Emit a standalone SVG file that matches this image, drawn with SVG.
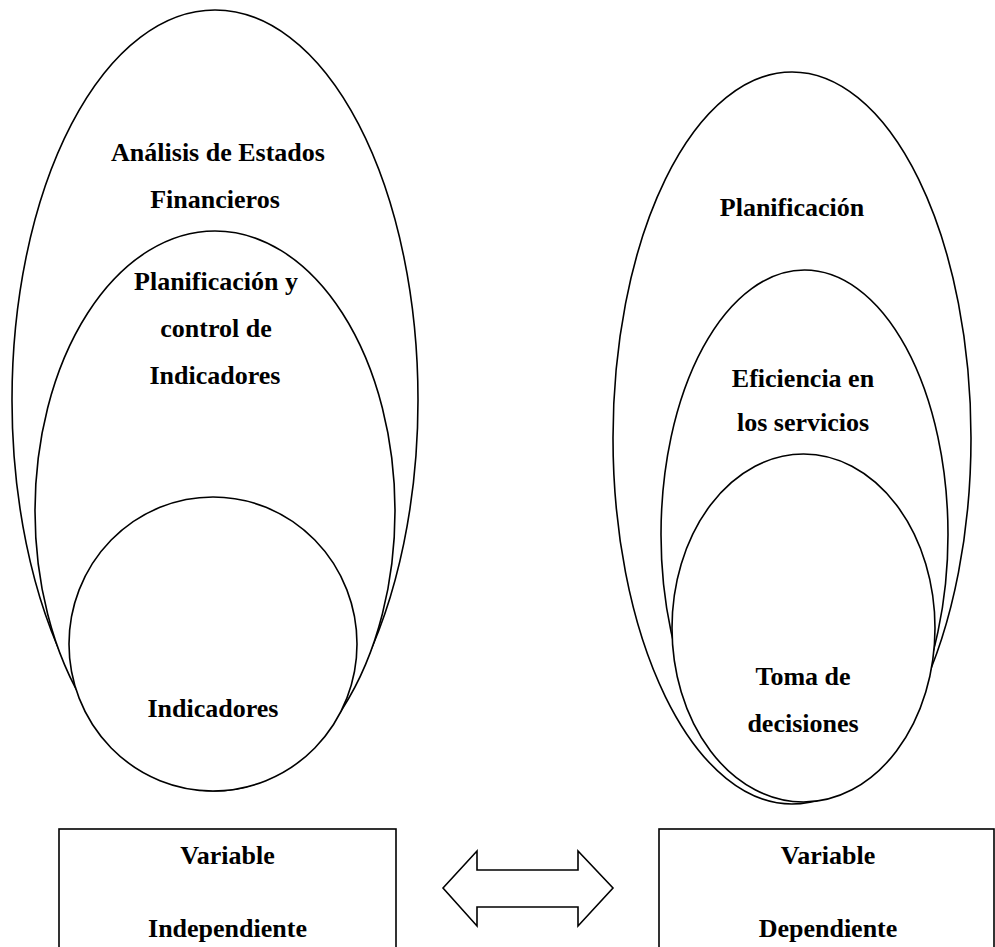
<svg xmlns="http://www.w3.org/2000/svg" width="995" height="947" viewBox="0 0 995 947">
<style>
.s{fill:#fff;stroke:#000;stroke-width:1.6}
.t{font-family:"Liberation Serif","Times New Roman",serif;font-weight:bold;font-size:26px;text-anchor:middle;fill:#000}
</style>
<rect width="995" height="947" fill="#fff"/>
<g id="left-outer"><ellipse class="s" cx="215" cy="400" rx="203" ry="390"/>
<text class="t" x="218" y="161">Análisis de Estados</text><text class="t" x="215" y="208">Financieros</text></g>
<g id="left-middle"><ellipse class="s" cx="215" cy="511" rx="180" ry="280"/>
<text class="t" x="216" y="290">Planificación y</text><text class="t" x="216" y="337">control de</text><text class="t" x="215" y="384">Indicadores</text></g>
<g id="left-inner"><ellipse class="s" cx="213" cy="644" rx="144" ry="147"/>
<text class="t" x="213" y="717">Indicadores</text></g>
<g id="right-outer"><ellipse class="s" cx="792" cy="438" rx="179" ry="366"/>
<text class="t" x="792" y="216">Planificación</text></g>
<g id="right-middle"><ellipse class="s" cx="804.5" cy="534.5" rx="143.5" ry="264.5"/>
<text class="t" x="803" y="387">Eficiencia en</text><text class="t" x="803" y="431">los servicios</text></g>
<g id="right-inner"><ellipse class="s" cx="803.5" cy="628" rx="131.5" ry="174"/>
<text class="t" x="803" y="685">Toma de</text><text class="t" x="803" y="732">decisiones</text></g>
<g id="box-independiente"><rect class="s" x="59" y="829" width="337" height="130"/>
<text class="t" x="227.5" y="864">Variable</text><text class="t" x="227.5" y="937">Independiente</text></g>
<g id="box-dependiente"><rect class="s" x="659" y="829" width="335" height="130"/>
<text class="t" x="828" y="864">Variable</text><text class="t" x="828" y="937">Dependiente</text></g>
<g id="connectors"><polygon class="s" points="443,888 477,851 477,870 578,870 578,851 613,888 578,926 578,907 477,907 477,926"/></g>
</svg>
